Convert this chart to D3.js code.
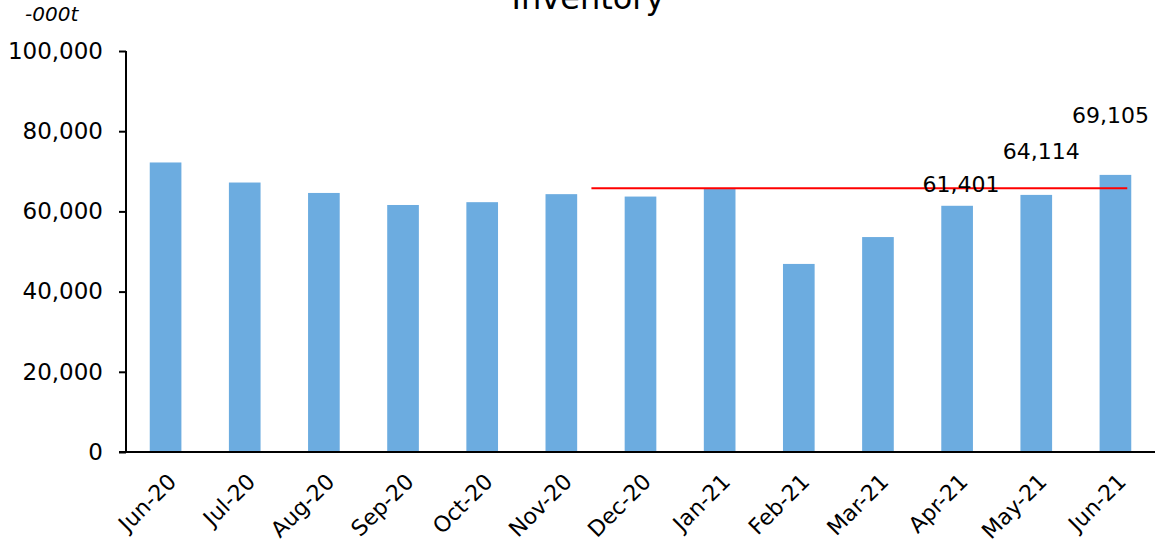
<!DOCTYPE html>
<html>
<head>
<meta charset="utf-8">
<script src="https://cdn.jsdelivr.net/npm/d3@7"></script>
<style>
  body { margin: 0; background: #fff; }
  svg { display: block; font-family: "DejaVu Sans", sans-serif; }
</style>
</head>
<body>
<svg id="chart" width="1155" height="547"></svg>
<script>
const months = ["Jun-20", "Jul-20", "Aug-20", "Sep-20", "Oct-20", "Nov-20", "Dec-20",
  "Jan-21", "Feb-21", "Mar-21", "Apr-21", "May-21", "Jun-21"];
const inventory = [72200, 67200, 64600, 61600, 62300, 64300, 63700,
  65800, 46900, 53600, 61401, 64114, 69105];
const labelled = ["Apr-21", "May-21", "Jun-21"];
const yTicks = [0, 20000, 40000, 60000, 80000, 100000];
const refValue = 65800;

// hand-placed label nudges (dx, lift above bar top)
const labelNudge = [[4, 14], [5, 36], [-5, 52]];

const width = 1155, height = 547;
const margin = { top: 51, right: 0, bottom: 95, left: 126 };
const svg = d3.select("#chart");

const x = d3.scaleBand().domain(months)
  .range([margin.left, width - margin.right]).paddingInner(0.6).paddingOuter(0.3);
const y = d3.scaleLinear().domain([0, 100000]).range([height - margin.bottom, margin.top]);
const fmt = d3.format(",");

// bars
svg.append("g").selectAll("rect").data(months).join("rect")
  .attr("x", (d) => x(d))
  .attr("y", (d, i) => y(inventory[i]))
  .attr("width", x.bandwidth())
  .attr("height", (d, i) => y(0) - y(inventory[i]))
  .attr("fill", "#6cace0");

// y axis
const yAxis = svg.append("g")
  .attr("transform", `translate(${margin.left},0)`)
  .call(d3.axisLeft(y).tickValues(yTicks).tickFormat(fmt).tickSize(7).tickPadding(16));
yAxis.select(".domain").attr("stroke", "#000").attr("stroke-width", 2)
  .attr("d", `M0,${y(100000)}V${y(0)}`);
yAxis.selectAll(".tick line").attr("stroke", "#000").attr("stroke-width", 2);
yAxis.selectAll(".tick text").attr("font-size", 23).attr("fill", "#000")
  .attr("font-family", "DejaVu Sans, sans-serif");

// x axis
const xAxis = svg.append("g")
  .attr("transform", `translate(0,${y(0)})`)
  .call(d3.axisBottom(x).tickSize(0).tickPadding(0));
xAxis.select(".domain").attr("stroke", "#000").attr("stroke-width", 2)
  .attr("d", `M${margin.left - 7},0H${width}`);
xAxis.selectAll(".tick text")
  .attr("font-size", 22).attr("fill", "#000")
  .attr("font-family", "DejaVu Sans, sans-serif")
  .attr("text-anchor", "end")
  .attr("dy", null)
  .attr("transform", "translate(12,31) rotate(-45)");

// reference line
const step = x.step();
svg.append("line")
  .attr("x1", x("Dec-20") - step * 0.42)
  .attr("x2", x("Jun-21") + x.bandwidth() - 4)
  .attr("y1", y(refValue)).attr("y2", y(refValue))
  .attr("stroke", "#ff0000").attr("stroke-width", 2);

// data labels
svg.append("g").selectAll("text").data(labelled).join("text")
  .attr("x", (d, i) => x(d) + x.bandwidth() / 2 + labelNudge[i][0])
  .attr("y", (d, i) => y(inventory[months.indexOf(d)]) - labelNudge[i][1])
  .attr("text-anchor", "middle")
  .attr("font-size", 22)
  .attr("fill", "#000")
  .text((d) => fmt(inventory[months.indexOf(d)]));

// title & unit
svg.append("text").attr("x", 588).attr("y", 9)
  .attr("text-anchor", "middle").attr("font-size", 32).text("Inventory");
svg.append("text").attr("x", 25).attr("y", 21)
  .attr("font-size", 20).attr("font-style", "italic").text("-000t");
</script>
</body>
</html>
